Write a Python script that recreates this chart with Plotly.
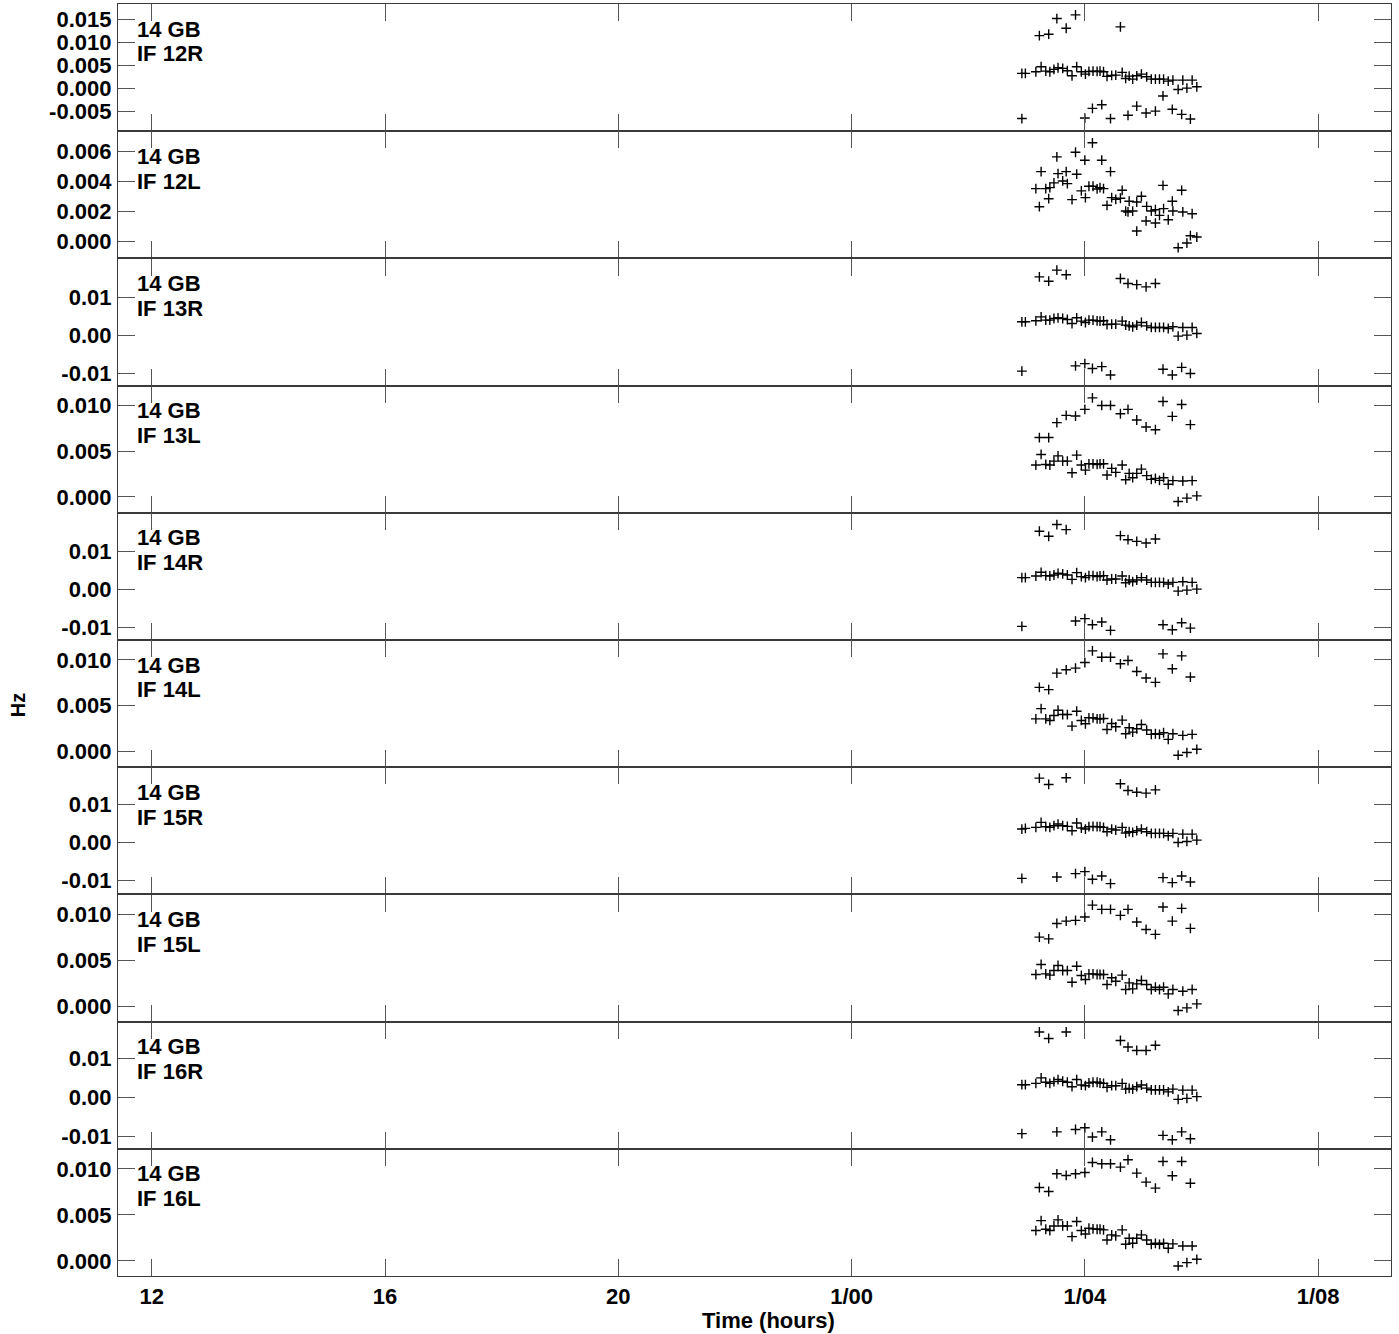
import plotly.graph_objects as go
from plotly.subplots import make_subplots

# time stamps (hours since day start; 24 = 1/00)
T_EARLY = [26.92, 26.98]
T_BAND = [27.16, 27.25, 27.33, 27.40, 27.47, 27.54, 27.62, 27.70, 27.78, 27.86,
          27.94, 28.01, 28.07, 28.14, 28.21, 28.26, 28.32, 28.38, 28.46, 28.53,
          28.64, 28.70, 28.76, 28.82, 28.89, 28.97, 29.06, 29.14, 29.21, 29.28,
          29.35, 29.43, 29.51, 29.60, 29.68, 29.75, 29.84, 29.92]
T_ALT = [26.92, 27.22, 27.38, 27.52, 27.68, 27.84, 28.00, 28.13, 28.29, 28.44,
         28.61, 28.74, 28.89, 29.05, 29.21, 29.34, 29.50, 29.66, 29.81]

X_TICKS = [12, 16, 20, 24, 28, 32]
X_TICK_TEXT = ["12", "16", "20", "1/00", "1/04", "1/08"]

STATION = "14 GB"
IF_LABELS = ["IF 12R", "IF 12L", "IF 13R", "IF 13L", "IF 14R",
             "IF 14L", "IF 15R", "IF 15L", "IF 16R", "IF 16L"]

# y tick values used on the panels
TICKS_12R = [-0.005, 0.0, 0.005, 0.010, 0.015]
TICKS_12L = [0.0, 0.002, 0.004, 0.006]
TICKS_R = [-0.01, 0.0, 0.01]
TICKS_L = [0.0, 0.005, 0.010]

# R panels: band includes the two early points, alt includes the first alt time
BAND_12R = [0.0032, 0.0032, 0.00355, 0.00464, 0.0037, 0.00355, 0.00406, 0.00442, 0.00428, 0.00377,
            0.00268, 0.00464, 0.00355, 0.00304, 0.00362, 0.0037, 0.00362, 0.0037, 0.00355, 0.00254,
            0.00275, 0.00283, 0.00341, 0.0021, 0.00261, 0.00196, 0.00268, 0.00304, 0.00246, 0.00196,
            0.00196, 0.00196, 0.00196, 0.00152, 0.00174, -0.00029, 0.00174, 0.0, 0.00174, 0.00029]
ALT_12R = [-0.0066, 0.0114, 0.0117, 0.0151, 0.0130, 0.0159, -0.0065, -0.0044, -0.0036, -0.0066,
           0.0133, -0.0059, -0.0039, -0.0054, -0.0050, -0.0017, -0.0046, -0.0057, -0.0067]

BAND_12L = [0.00351, 0.00464, 0.00351, 0.00358, 0.00389, 0.00451, 0.00402, 0.00384, 0.00278, 0.00447,
            0.00336, 0.00291, 0.00367, 0.00367, 0.00349, 0.00358, 0.00351, 0.0024, 0.00291, 0.0028,
            0.0034, 0.00202, 0.00267, 0.00202, 0.00262, 0.003, 0.00233, 0.00202, 0.00211, 0.00173,
            0.00218, 0.00144, 0.00202, -0.00042, 0.00196, -0.00011, 0.00184, 0.00029]
ALT_12L = [0.00231, 0.00284, 0.00562, 0.00464, 0.00593, 0.0054, 0.00656, 0.0054, 0.00464, 0.00287,
           0.00196, 0.00069, 0.00136, 0.00122, 0.00373, 0.00267, 0.0034, 0.00038]

BAND_13R = [0.0036, 0.0036, 0.00386, 0.00491, 0.00404, 0.00404, 0.00447, 0.00465, 0.00447, 0.00421,
            0.00316, 0.00465, 0.00377, 0.00342, 0.00404, 0.00404, 0.00386, 0.00377, 0.00386, 0.00289,
            0.00298, 0.00298, 0.00377, 0.00272, 0.00254, 0.00228, 0.00272, 0.00342, 0.00254, 0.00211,
            0.00211, 0.00211, 0.00211, 0.00184, 0.00228, -0.00018, 0.00211, 0.00009, 0.00211, 0.00053]
ALT_13R = [-0.0094, 0.01544, 0.0143, 0.0172, 0.0160, -0.0080, -0.0074, -0.0087, -0.0082, -0.0104,
           0.0150, 0.0137, 0.0134, 0.0128, 0.0137, -0.0089, -0.0104, -0.0084, -0.0100]

BAND_13L = [0.00348, 0.00464, 0.00355, 0.00348, 0.00391, 0.00449, 0.00391, 0.00391, 0.00264, 0.00457,
            0.00348, 0.00293, 0.00362, 0.00362, 0.00355, 0.0036, 0.00362, 0.00239, 0.00312, 0.00268,
            0.00348, 0.00188, 0.00257, 0.0021, 0.00257, 0.00304, 0.00232, 0.00192, 0.00203, 0.00181,
            0.0021, 0.00138, 0.00178, -0.00051, 0.00174, -0.00014, 0.00178, 0.00011]
ALT_13L = [0.00649, 0.00649, 0.00812, 0.00891, 0.00884, 0.00957, 0.01083, 0.0100, 0.0100, 0.00909,
           0.00957, 0.00841, 0.00764, 0.00735, 0.01043, 0.0088, 0.01011, 0.0079]

BAND_14R = [0.00307, 0.00307, 0.00351, 0.00447, 0.0036, 0.00351, 0.00377, 0.00421, 0.00404, 0.00377,
            0.00263, 0.00439, 0.00333, 0.00307, 0.0036, 0.0036, 0.00333, 0.00351, 0.0036, 0.00246,
            0.00272, 0.00272, 0.00351, 0.00175, 0.00246, 0.00202, 0.00246, 0.00307, 0.00246, 0.00184,
            0.00184, 0.00184, 0.00184, 0.0014, 0.00184, -0.00044, 0.00202, -0.00018, 0.00184, 0.00009]
ALT_14R = [-0.00965, 0.01518, 0.01386, 0.01693, 0.01561, -0.00825, -0.00763, -0.00921, -0.00851, -0.0107,
           0.01404, 0.01298, 0.01254, 0.01211, 0.01316, -0.00921, -0.01053, -0.00868, -0.01009]

BAND_14L = [0.00355, 0.00467, 0.00355, 0.00337, 0.00391, 0.00449, 0.00402, 0.00402, 0.00275, 0.00438,
            0.00337, 0.00301, 0.00366, 0.00366, 0.00355, 0.00355, 0.00359, 0.00239, 0.00304, 0.00268,
            0.00341, 0.00192, 0.00257, 0.0021, 0.00246, 0.00293, 0.00232, 0.00185, 0.00192, 0.00185,
            0.00203, 0.0013, 0.00192, -0.00043, 0.00174, -0.00014, 0.00185, 0.00022]
ALT_14L = [0.00699, 0.00674, 0.00855, 0.00891, 0.00909, 0.00971, 0.01098, 0.01029, 0.01029, 0.00957,
           0.00993, 0.00873, 0.00801, 0.00754, 0.01065, 0.00902, 0.01043, 0.00812]

BAND_15R = [0.00351, 0.00368, 0.00395, 0.00526, 0.00412, 0.00395, 0.00439, 0.00482, 0.00439, 0.00421,
            0.00307, 0.00509, 0.00377, 0.00351, 0.00412, 0.00421, 0.00412, 0.00412, 0.00395, 0.00281,
            0.00351, 0.00325, 0.00395, 0.00246, 0.00281, 0.00263, 0.00307, 0.00351, 0.00281, 0.00237,
            0.00237, 0.00237, 0.00237, 0.00175, 0.00237, 0.0, 0.00219, 0.00026, 0.00219, 0.00061]
ALT_15R = [-0.0094, 0.01684, 0.01518, -0.00904, 0.01693, -0.00816, -0.00763, -0.00965, -0.00877, -0.01079,
           0.01535, 0.0136, 0.01316, 0.0129, 0.01377, -0.00921, -0.01053, -0.00877, -0.01035]

BAND_15L = [0.00348, 0.00457, 0.00355, 0.00341, 0.00391, 0.00446, 0.00391, 0.00391, 0.00264, 0.00438,
            0.00337, 0.00293, 0.00355, 0.00355, 0.00348, 0.00348, 0.00348, 0.00239, 0.00312, 0.00275,
            0.00341, 0.00185, 0.00257, 0.00192, 0.00246, 0.00283, 0.00239, 0.00185, 0.0021, 0.00185,
            0.0021, 0.00138, 0.00185, -0.00043, 0.00167, -0.00014, 0.00185, 0.00029]
ALT_15L = [0.00754, 0.00735, 0.00902, 0.00927, 0.00935, 0.00971, 0.01101, 0.01054, 0.01054, 0.00989,
           0.01054, 0.00917, 0.00837, 0.00783, 0.0108, 0.00927, 0.01065, 0.00848]

BAND_16R = [0.00333, 0.00333, 0.00368, 0.00509, 0.00395, 0.00368, 0.00412, 0.00465, 0.00421, 0.00395,
            0.00281, 0.00465, 0.00325, 0.00307, 0.00377, 0.00395, 0.00395, 0.00377, 0.00368, 0.00263,
            0.00307, 0.00307, 0.00368, 0.00219, 0.00237, 0.00219, 0.00281, 0.00325, 0.00246, 0.00202,
            0.00202, 0.00202, 0.00202, 0.00149, 0.00219, -0.00044, 0.00193, -0.00018, 0.00193, 0.00026]
ALT_16R = [-0.00921, 0.01684, 0.01518, -0.00877, 0.01684, -0.00816, -0.00772, -0.01009, -0.00877, -0.01079,
           0.01465, 0.01298, 0.01211, 0.01211, 0.01342, -0.00965, -0.01079, -0.00877, -0.01053]

BAND_16L = [0.0033, 0.00438, 0.00344, 0.0033, 0.0038, 0.00446, 0.0038, 0.0038, 0.00264, 0.00428,
            0.0033, 0.00293, 0.00355, 0.00348, 0.00344, 0.00344, 0.00337, 0.00228, 0.00283, 0.00272,
            0.00337, 0.00181, 0.00246, 0.00192, 0.00246, 0.00283, 0.00228, 0.00181, 0.00192, 0.00181,
            0.00192, 0.00138, 0.00185, -0.00054, 0.00163, -0.00018, 0.00163, 0.00018]
ALT_16L = [0.00797, 0.00754, 0.00946, 0.00928, 0.00946, 0.0096, 0.01069, 0.01054, 0.01054, 0.01018,
           0.01098, 0.00953, 0.00855, 0.0079, 0.0108, 0.00924, 0.0108, 0.00844]

# (label, band, alt, y range, tick values, decimals)
panels = [
    (IF_LABELS[0], BAND_12R, ALT_12R, [-0.00935, 0.01826], TICKS_12R, 3),
    (IF_LABELS[1], BAND_12L, ALT_12L, [-0.00113, 0.00733], TICKS_12L, 3),
    (IF_LABELS[2], BAND_13R, ALT_13R, [-0.0132, 0.0203], TICKS_R, 2),
    (IF_LABELS[3], BAND_13L, ALT_13L, [-0.00174, 0.01217], TICKS_L, 3),
    (IF_LABELS[4], BAND_14R, ALT_14R, [-0.0132, 0.0200], TICKS_R, 2),
    (IF_LABELS[5], BAND_14L, ALT_14L, [-0.00174, 0.01217], TICKS_L, 3),
    (IF_LABELS[6], BAND_15R, ALT_15R, [-0.0136, 0.0197], TICKS_R, 2),
    (IF_LABELS[7], BAND_15L, ALT_15L, [-0.00163, 0.01217], TICKS_L, 3),
    (IF_LABELS[8], BAND_16R, ALT_16R, [-0.0131, 0.0195], TICKS_R, 2),
    (IF_LABELS[9], BAND_16L, ALT_16L, [-0.00163, 0.01217], TICKS_L, 3),
]

FONT = "Liberation Sans, Arial, Helvetica, sans-serif"
AXIS_COLOR = "#3a3a3a"
TICK_COLOR = "#555555"

fig = make_subplots(rows=len(panels), cols=1, shared_xaxes=True, vertical_spacing=0)

marker = dict(symbol="cross-thin", size=7, color="black",
              line=dict(width=1.4, color="black"))

for i, (label, band, alt, yr, tv, dec) in enumerate(panels, start=1):
    is_r = len(band) == len(T_BAND) + 2
    t_band = (T_EARLY + T_BAND) if is_r else T_BAND
    t_alt = T_ALT if is_r else T_ALT[1:]
    fig.add_trace(go.Scatter(x=t_band + t_alt, y=band + alt, mode="markers",
                             marker=marker, showlegend=False, hoverinfo="x+y"),
                  row=i, col=1)
    fig.update_yaxes(range=yr, tickvals=tv,
                     ticktext=[f"{v:.{dec}f}" for v in tv],
                     row=i, col=1)
    xd = "x domain" if i == 1 else f"x{i} domain"
    yd = "y domain" if i == 1 else f"y{i} domain"
    fig.add_annotation(text=STATION, xref=xd, yref=yd, x=0.013, y=0.803,
                       xanchor="left", yanchor="middle", showarrow=False,
                       font=dict(size=22, color="black", family=FONT, weight="bold"))
    fig.add_annotation(text=label, xref=xd, yref=yd, x=0.013, y=0.607,
                       xanchor="left", yanchor="middle", showarrow=False,
                       font=dict(size=22, color="black", family=FONT, weight="bold"))

fig.update_xaxes(range=[11.42, 33.25], tickvals=X_TICKS, ticktext=X_TICK_TEXT,
                 ticks="inside", ticklen=17, tickwidth=1.2, tickcolor=TICK_COLOR,
                 showline=True, linecolor=AXIS_COLOR, linewidth=1.2, mirror="allticks",
                 showgrid=False, zeroline=False, ticklabelstandoff=0, automargin=False)
fig.update_yaxes(ticks="inside", ticklen=17, tickwidth=1.2, tickcolor=TICK_COLOR,
                 showline=True, linecolor=AXIS_COLOR, linewidth=1.2, mirror="allticks",
                 showgrid=False, zeroline=False, ticklabelstandoff=1, automargin=False)

fig.add_annotation(text="Hz", xref="paper", yref="paper", x=-0.079, y=0.449,
                   textangle=-90, showarrow=False, xanchor="center", yanchor="middle",
                   font=dict(size=20, color="black", family=FONT, weight="bold"))
fig.add_annotation(text="Time (hours)", xref="paper", yref="paper", x=0.511, y=-0.0346,
                   showarrow=False, xanchor="center", yanchor="middle",
                   font=dict(size=22, color="black", family=FONT, weight="bold"))

fig.update_layout(
    width=1399, height=1334,
    margin=dict(l=118, r=8, t=4, b=58),
    paper_bgcolor="white", plot_bgcolor="white",
    font=dict(family=FONT, size=22, color="black", weight="bold"),
)

# the page's default body margin would shift the figure by 8 px
fig.write_html("out.html", config={"displayModeBar": False},
               post_script="document.body.style.margin = '0px';")
